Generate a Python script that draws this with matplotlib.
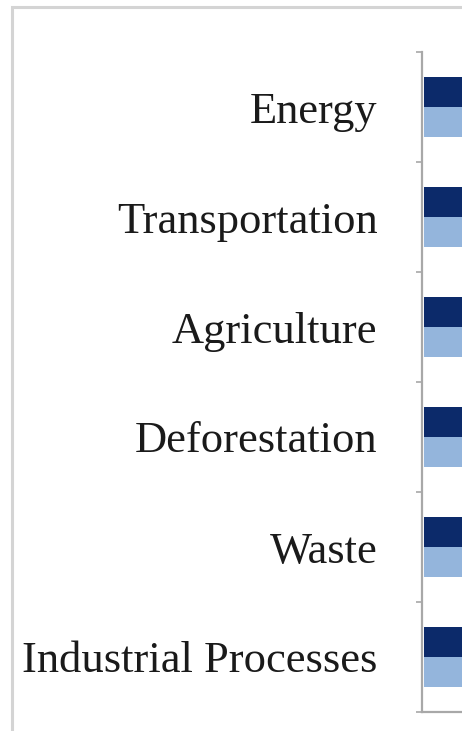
import matplotlib
matplotlib.use("Agg")
import matplotlib.pyplot as plt
from matplotlib.patches import Rectangle
import numpy as np

categories = ["Energy", "Transportation", "Agriculture", "Deforestation",
              "Waste", "Industrial Processes"]
series_dark = [35, 24, 18, 15, 5, 6]     # first series (dark navy)
series_light = [30, 21, 16, 12, 4, 5]    # second series (light blue)

W, H = 462, 731
fig = plt.figure(figsize=(W / 100, H / 100), dpi=100)
fig.patch.set_facecolor("white")

# light gray frame around the chart area
fig.patches.append(Rectangle((12 / W, -0.1), 2.0, 1 - 7 / H + 0.1,
                             transform=fig.transFigure, fill=False,
                             edgecolor="#d4d4d4", linewidth=2.2))

left = 422 / W
top = 1 - 52 / H
bottom = 1 - 712 / H
ax = fig.add_axes([left, bottom, 2.2, top - bottom])

y = np.arange(len(categories))
h = 0.27
ax.barh(y - 0.137, series_dark, height=h, color="#0c2a6a", left=0.08)
ax.barh(y + 0.137, series_light, height=h, color="#94b5dc", left=0.08)

ax.set_ylim(len(categories) - 0.5, -0.5)
ax.set_xlim(0, 40)

ax.set_yticks(y)
ax.set_yticklabels(categories, family=["Liberation Serif", "DejaVu Serif"],
                   fontsize=32, color="#1a1a1a")
ax.tick_params(axis="y", which="major", length=0, pad=32)
ax.set_yticks(np.arange(-0.5, len(categories), 1.0), minor=True)
ax.tick_params(axis="y", which="minor", length=4, width=1.2, color="#a8a8a8")
ax.tick_params(axis="x", bottom=False, labelbottom=False)

for s in ["top", "right"]:
    ax.spines[s].set_visible(False)
for s in ["left", "bottom"]:
    ax.spines[s].set_color("#a8a8a8")
    ax.spines[s].set_linewidth(1.6)

fig.savefig("out.png", dpi=100)
